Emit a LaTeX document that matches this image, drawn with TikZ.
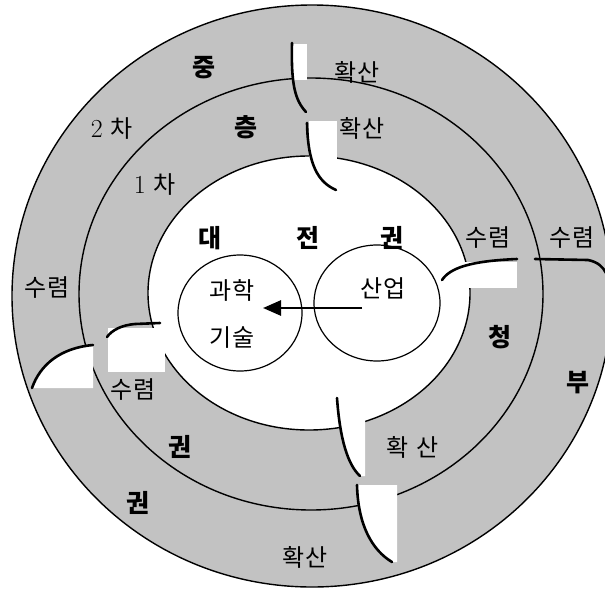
\documentclass[tikz,border=0pt]{standalone}
\usepackage{fontspec}
\newfontfamily\kr{Noto Sans CJK KR}
\usetikzlibrary{arrows.meta}
\definecolor{ringgray}{gray}{0.76}
\begin{document}
\begin{tikzpicture}[x=1pt,y=-1pt,
  lbl/.style={font=\kr\fontsize{24}{26}\selectfont, inner sep=0pt},
  big/.style={font=\kr\bfseries\fontsize{25}{27}\selectfont, inner sep=0pt},
  sepline/.style={line width=2.6pt, line cap=round},
  ring/.style={line width=1.4pt},
]
\useasboundingbox (0,0) rectangle (605,590);
\fill[white] (0,0) rectangle (605,590);
% rings
\path[fill=ringgray, draw, ring] (312,296) ellipse [x radius=300, y radius=291];
\draw[ring] (311,294) ellipse [x radius=232, y radius=216];
\path[fill=white, draw, ring] (309,293) ellipse [x radius=161, y radius=137];
% white cuts
\fill[white] (293,44) rectangle (307,80);
\fill[white] (309,121) rectangle (337,160);
\fill[white] (463,262) rectangle (517,288);
\fill[white] (108,328) rectangle (165,372);
\fill[white] (32,388) .. controls (40,365) and (60,348) .. (93,345) -- (93,388) -- cycle;
\fill[white] (337,398) .. controls (340,440) and (348,465) .. (360,476) -- (365,476) -- (365,415) -- cycle;
\fill[white] (357,485) .. controls (358,525) and (372,550) .. (392,562) -- (397,562) -- (397,485) -- cycle;
% separators
\draw[sepline] (292,43) .. controls (291,85) and (295,100) .. (306,112);
\draw[sepline] (307,123) .. controls (308,165) and (318,182) .. (336,190);
\draw[sepline] (442,280) .. controls (450,268) and (470,261) .. (517,259);
\draw[sepline] (535,259) -- (588,260) .. controls (598,262) and (603,267) .. (606,273);
\draw[sepline] (107,337) .. controls (112,330) and (122,325) .. (135,324) -- (160,323);
\draw[sepline] (32,388) .. controls (40,365) and (60,348) .. (93,345);
\draw[sepline] (337,398) .. controls (340,440) and (348,465) .. (360,476);
\draw[sepline] (357,485) .. controls (358,525) and (372,550) .. (392,562);
% small circles
\draw[line width=1.2pt] (240,313) ellipse [x radius=62, y radius=58];
\draw[line width=1.2pt] (377,303) ellipse [x radius=63, y radius=58];
% texts
\node[lbl] (sci) at (232,290) {과학};
\node[lbl] (tech) at (232,338) {기술};
\node[lbl] (ind) at (383,288) {산업};
\coordinate (arrS) at (362,308);
\coordinate (arrE) at (263,308);
\draw[line width=2.6pt, -{Triangle[length=18pt,width=15pt]}] (arrS) -- (arrE);
\node[big] (dae) at (210,238) {대};
\node[big] (jeon) at (308,238) {전};
\node[big] (gwon1) at (392,238) {권};
\node[big] (jung) at (204,68) {중};
\node[big] (cheung) at (246,127) {층};
\node[big] (cheong) at (500,337) {청};
\node[big] (bu) at (578,383) {부};
\node[big] (gwon2) at (180,447) {권};
\node[big] (gwon3) at (138,503) {권};
\node[lbl] (hw1) at (357,72) {확산};
\node[lbl] (hw2) at (362,128) {확산};
\node[lbl] (hw3) at (413,447) {확\,\,산};
\node[lbl] (hw4) at (305,557) {확산};
\node[lbl] (sr1) at (488,238) {수렴};
\node[lbl] (sr2) at (572,238) {수렴};
\node[lbl] (sr3) at (47,288) {수렴};
\node[lbl] (sr4) at (133,390) {수렴};
\node[lbl] (cha2) at (112,129) {{\rmfamily\fontsize{26}{28}\selectfont 2}\,\,차};
\node[lbl] (cha1) at (155,185) {{\rmfamily\fontsize{26}{28}\selectfont 1}\,\,차};
\end{tikzpicture}
\end{document}
